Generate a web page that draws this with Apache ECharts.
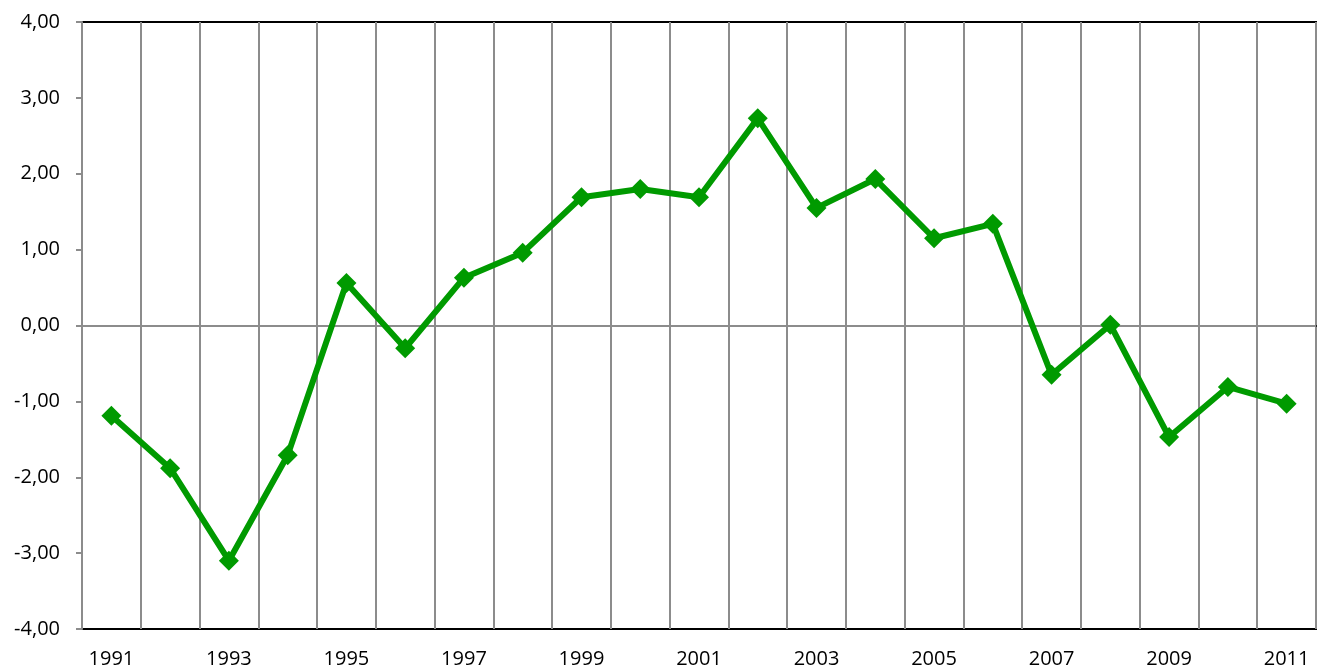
<!DOCTYPE html>
<html>
<head>
<meta charset="utf-8">
<script src="https://cdn.jsdelivr.net/npm/echarts@6/dist/echarts.min.js"></script>
<style>
  html, body { margin: 0; padding: 0; background: #fff; }
  #chart { width: 1330px; height: 671px; }
</style>
</head>
<body>
<div id="chart"></div>
<script>
// years on the x axis
const years = ['1991', '1992', '1993', '1994', '1995', '1996', '1997', '1998', '1999', '2000',
  '2001', '2002', '2003', '2004', '2005', '2006', '2007', '2008', '2009', '2010', '2011']
// values
const values = [-1.19, -1.88, -3.10, -1.71, 0.56, -0.30, 0.63, 0.96, 1.69, 1.80,
  1.69, 2.73, 1.55, 1.93, 1.15, 1.34, -0.65, 0.01, -1.47, -0.81, -1.03]

const gridColor = '#8c8c8c'
const lineColor = '#009a00'
const fontFamily = '"Open Sans", sans-serif'

const chart = echarts.init(document.getElementById('chart'))
chart.setOption({
  animation: false,
  grid: {
    left: 82,
    right: 14,
    top: 22,
    bottom: 42,
    show: true,
    borderColor: '#000',
    borderWidth: 2
  },
  xAxis: {
    type: 'category',
    data: years,
    boundaryGap: true,
    axisLine: { lineStyle: { color: '#000', width: 2 } },
    axisTick: { show: false },
    axisLabel: {
      interval: 1,
      color: '#000',
      fontSize: 20,
      fontFamily: fontFamily,
      margin: 20
    },
    splitLine: {
      show: true,
      interval: 0,
      lineStyle: { color: gridColor, width: 2 }
    }
  },
  yAxis: {
    type: 'value',
    min: -4,
    max: 4,
    interval: 1,
    axisLine: { show: true, lineStyle: { color: gridColor, width: 2 } },
    axisTick: { show: true, length: 6, lineStyle: { color: gridColor, width: 2 } },
    splitLine: { show: false },
    axisLabel: {
      color: '#000',
      fontSize: 20,
      fontFamily: fontFamily,
      margin: 22,
      formatter: v => v.toFixed(2).replace('.', ',')
    }
  },
  series: [{
    type: 'line',
    data: values,
    symbol: 'diamond',
    symbolSize: 20,
    lineStyle: { color: lineColor, width: 6 },
    itemStyle: { color: lineColor },
    z: 5,
    markLine: {
      silent: true,
      symbol: 'none',
      label: { show: false },
      lineStyle: { color: gridColor, width: 2, type: 'solid' },
      data: [{ yAxis: 0 }],
      z: 1
    }
  }]
})
</script>
</body>
</html>
